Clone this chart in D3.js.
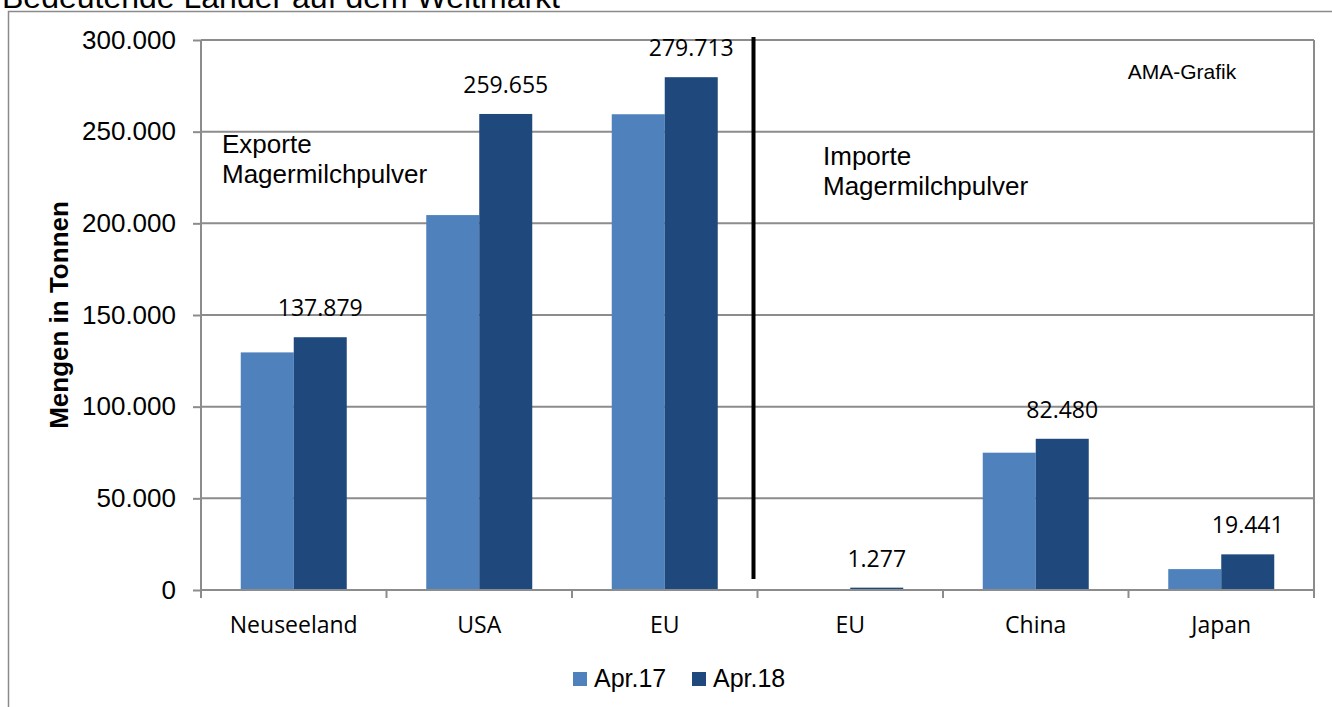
<!DOCTYPE html>
<html>
<head>
<meta charset="utf-8">
<script src="https://cdn.jsdelivr.net/npm/d3@7"></script>
<style>
  body { margin: 0; background: #fff; }
  svg { display: block; }
</style>
</head>
<body>
<div class="chart"></div>
<script>
// data
var categories = ["Neuseeland", "USA", "EU", "EU", "China", "Japan"];
var seriesNames = ["Apr.17", "Apr.18"];
var apr17 = [129600, 204500, 259500, 400, 74900, 11400];
var apr18 = [137879, 259655, 279713, 1277, 82480, 19441];
var yTicks = [0, 50000, 100000, 150000, 200000, 250000, 300000];
var colors = ["#4F81BD", "#1F497D"];

var de = d3.formatLocale({ decimal: ",", thousands: ".", grouping: [3], currency: ["", "€"] });
var fmt = de.format(",d");

var W = 1332, H = 707;
var margin = { top: 40, right: 18, bottom: 117, left: 201 },
	width = W - margin.left - margin.right,
	height = H - margin.top - margin.bottom;

var svg = d3.select(".chart").append("svg")
	.attr("width", W)
	.attr("height", H);

// title, cut off at top of the picture (as in the original)
svg.append("text")
	.attr("x", 2)
	.attr("y", 8)
	.style("font-family", "Liberation Sans, Arial, sans-serif")
	.style("font-size", "32px")
	.text("Bedeutende Länder auf dem Weltmarkt");

// outer chart border
svg.append("rect")
	.attr("x", 8.5).attr("y", 11.5)
	.attr("width", W).attr("height", H)
	.attr("fill", "none")
	.attr("stroke", "#8a8a8a")
	.attr("stroke-width", 1.5);

var g = svg.append("g")
	.attr("transform", "translate(" + margin.left + "," + margin.top + ")");

var y = d3.scaleLinear()
	.domain([0, 300000])
	.range([height, 0]);

var x0 = d3.scaleBand()
	.domain(d3.range(categories.length))
	.range([0, width])
	.padding(0);

var x1 = d3.scaleBand()
	.domain(d3.range(seriesNames.length))
	.range([0, x0.bandwidth()])
	.paddingInner(0)
	.paddingOuter(0.75);

// gridlines
g.selectAll(".grid")
	.data(yTicks)
	.enter().append("line")
	.attr("x1", 0).attr("x2", width)
	.attr("y1", function (d) { return y(d); })
	.attr("y2", function (d) { return y(d); })
	.attr("stroke", "#8c8c8c")
	.attr("stroke-width", 2);

// plot area right border
g.append("line")
	.attr("x1", width).attr("x2", width)
	.attr("y1", 0).attr("y2", height)
	.attr("stroke", "#8c8c8c")
	.attr("stroke-width", 2);

// bars
var rows = categories.map(function (c, i) { return [apr17[i], apr18[i]]; });

var groups = g.selectAll(".grp")
	.data(rows)
	.enter().append("g")
	.attr("transform", function (d, i) { return "translate(" + x0(i) + ",0)"; });

groups.selectAll("rect")
	.data(function (d) { return d; })
	.enter().append("rect")
	.attr("x", function (d, j) { return x1(j); })
	.attr("width", x1.bandwidth())
	.attr("y", function (d) { return y(d); })
	.attr("height", function (d) { return height - y(d); })
	.attr("fill", function (d, j) { return colors[j]; });

// value labels on Apr.18 bars
g.selectAll(".val")
	.data(apr18)
	.enter().append("text")
	.attr("x", function (d, i) { return x0(i) + x1(1) + x1.bandwidth() / 2; })
	.attr("y", function (d) { return y(d) - 21; })
	.attr("text-anchor", "middle")
	.style("font-family", "Open Sans, sans-serif")
	.style("font-size", "23px")
	.text(function (d) { return fmt(d); });

// y axis
var yAxis = g.append("g")
	.call(d3.axisLeft(y).tickValues(yTicks).tickSize(8).tickPadding(17).tickFormat(fmt));
yAxis.select(".domain").attr("stroke", "#8c8c8c").attr("stroke-width", 2).attr("d", "M0,0V" + height);
yAxis.selectAll(".tick line").attr("stroke", "#8c8c8c").attr("stroke-width", 2);
yAxis.selectAll(".tick text")
	.style("font-family", "Liberation Sans, Arial, sans-serif")
	.style("font-size", "26px")
	.attr("fill", "#000");

// x axis: ticks at category boundaries
var xAxisG = g.append("g").attr("transform", "translate(0," + height + ")");
xAxisG.append("line")
	.attr("x1", 0).attr("x2", width)
	.attr("stroke", "#8c8c8c").attr("stroke-width", 2);
xAxisG.selectAll(".xt")
	.data(d3.range(categories.length + 1))
	.enter().append("line")
	.attr("x1", function (i) { return i * x0.step(); })
	.attr("x2", function (i) { return i * x0.step(); })
	.attr("y1", 0).attr("y2", 8)
	.attr("stroke", "#8c8c8c").attr("stroke-width", 2);
xAxisG.selectAll(".xl")
	.data(categories)
	.enter().append("text")
	.attr("x", function (d, i) { return x0(i) + x0.bandwidth() / 2; })
	.attr("y", 43)
	.attr("text-anchor", "middle")
	.style("font-family", "Open Sans, sans-serif")
	.style("font-size", "23px")
	.text(function (d) { return d; });

// divider between exports and imports
g.append("line")
	.attr("x1", x0(3) - 4).attr("x2", x0(3) - 4)
	.attr("y1", y(301600)).attr("y2", y(6000))
	.attr("stroke", "#000")
	.attr("stroke-width", 4);

// y axis title
svg.append("text")
	.attr("transform", "translate(68," + (margin.top + height / 2) + ") rotate(-90)")
	.attr("text-anchor", "middle")
	.style("font-family", "Liberation Sans, Arial, sans-serif")
	.style("font-size", "26px")
	.style("font-weight", "bold")
	.text("Mengen in Tonnen");

// annotations
function note(lines, px, py) {
	var t = svg.append("text")
		.style("font-family", "Liberation Sans, Arial, sans-serif")
		.style("font-size", "26px");
	lines.forEach(function (l, i) {
		t.append("tspan").attr("x", px).attr("y", py + i * 30).text(l);
	});
}
note(["Exporte", "Magermilchpulver"], 222, 153);
note(["Importe", "Magermilchpulver"], 823, 165);

svg.append("text")
	.attr("x", 1182).attr("y", 79)
	.attr("text-anchor", "middle")
	.style("font-family", "Liberation Sans, Arial, sans-serif")
	.style("font-size", "21px")
	.text("AMA-Grafik");

// legend
var legend = svg.append("g").attr("transform", "translate(573,672)");
var items = legend.selectAll(".li")
	.data(seriesNames)
	.enter().append("g")
	.attr("transform", function (d, i) { return "translate(" + (i * 119) + ",0)"; });
items.append("rect")
	.attr("width", 14).attr("height", 14)
	.attr("fill", function (d, i) { return colors[i]; });
items.append("text")
	.attr("x", 21).attr("y", 15)
	.style("font-family", "Liberation Sans, Arial, sans-serif")
	.style("font-size", "25px")
	.text(function (d) { return d; });
</script>
</body>
</html>
